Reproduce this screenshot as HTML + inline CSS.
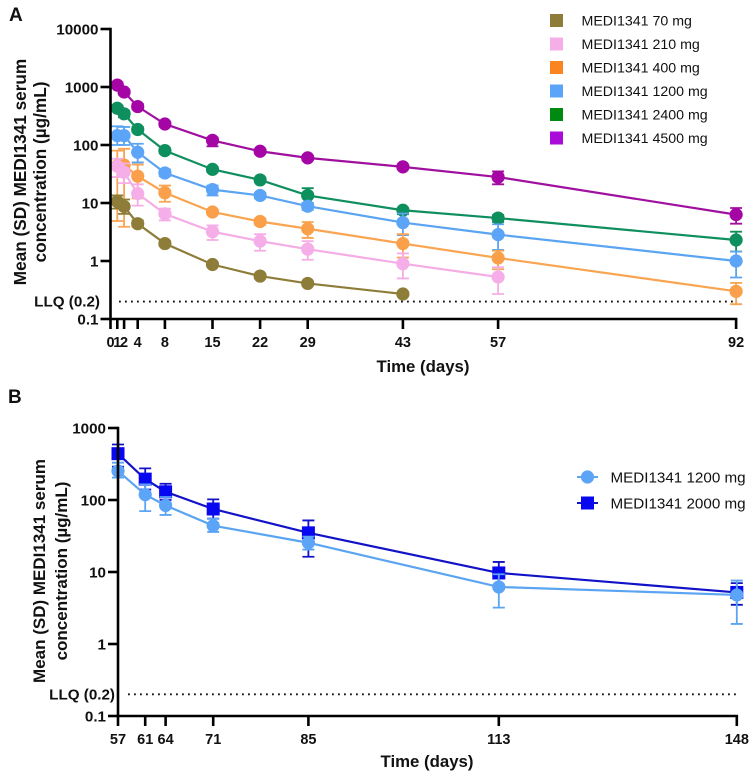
<!DOCTYPE html>
<html lang="en">
<head>
<meta charset="utf-8">
<title>MEDI1341 serum concentration</title>
<style>
html,body{margin:0;padding:0;background:#fff;width:750px;height:772px;overflow:hidden}
svg{display:block}
text{font-family:"Liberation Sans",sans-serif;fill:#111}
.b{font-weight:bold}
</style>
</head>
<body>
<svg id="chart" xmlns="http://www.w3.org/2000/svg" width="750" height="772" viewBox="0 0 750 772"></svg>
<script>
// Panel A data
const daysA = [1, 2, 4, 8, 15, 22, 29, 43, 57, 92];
const xTicksA = [0, 1, 2, 4, 8, 15, 22, 29, 43, 57, 92];
const yTicksA = [0.1, 1, 10, 100, 1000, 10000];
const llq = 0.2;

const name70 = 'MEDI1341 70 mg';
const mean70 = [10.6, 8.7, 4.4, 2.0, 0.87, 0.55, 0.41, 0.27, null, null];
const up70 = [13.5, 11.5, 5.0, 2.2, 0.95, 0.6, 0.44, 0.28, null, null];
const low70 = [8, 6.5, 3.9, 1.8, 0.8, 0.5, 0.38, 0.26, null, null];

const name210 = 'MEDI1341 210 mg';
const mean210 = [43, 34, 14.5, 6.5, 3.2, 2.2, 1.6, 0.9, 0.53, null];
const up210 = [58, 48, 21, 8, 4.1, 2.9, 2.2, 1.35, 0.78, null];
const low210 = [28, 22, 9, 5, 2.3, 1.5, 1.05, 0.5, 0.27, null];

const name400 = 'MEDI1341 400 mg';
const mean400 = [44, 45, 29, 15, 7, 4.8, 3.6, 2.0, 1.13, 0.3];
const up400 = [80, 86, 46, 20, 7.8, 5.4, 4.7, 2.9, 1.5, 0.42];
const low400 = [4.9, 3.9, 12, 10.5, 6.3, 4.2, 2.5, 1.15, 0.72, 0.18];

const name1200 = 'MEDI1341 1200 mg';
const mean1200 = [145, 145, 75, 33, 17, 13.5, 8.8, 4.6, 2.85, 1.0];
const up1200 = [210, 205, 105, 38, 20, 15, 10, 6.6, 4.3, 1.45];
const low1200 = [100, 100, 50, 29, 13.5, 12, 7.6, 2.8, 1.55, 0.52];

const name2400 = 'MEDI1341 2400 mg';
const mean2400 = [430, 345, 185, 80, 38, 25, 13.5, 7.5, 5.5, 2.3];
const up2400 = [480, 390, 205, 88, 42, 27, 18, 8.2, 6.2, 3.2];
const low2400 = [380, 300, 165, 72, 34, 23, 10, 6.4, 4.7, 1.45];

const name4500 = 'MEDI1341 4500 mg';
const mean4500 = [1080, 820, 460, 230, 120, 78, 60, 42, 28, 6.3];
const up4500 = [1200, 900, 510, 250, 135, 85, 65, 45, 35, 8.2];
const low4500 = [960, 740, 410, 210, 95, 71, 55, 39, 21, 4.4];

// Panel B data
const daysB = [57, 61, 64, 71, 85, 113, 148];
const xTicksB = [57, 61, 64, 71, 85, 113, 148];
const yTicksB = [0.1, 1, 10, 100, 1000];

const nameB1200 = 'MEDI1341 1200 mg';
const meanB1200 = [253, 119, 84, 44, 25.5, 6.2, 4.8];
const upB1200 = [330, 165, 110, 55, 31, 9.3, 7.6];
const lowB1200 = [205, 70, 62, 36, 20.5, 3.2, 1.9];

const nameB2000 = 'MEDI1341 2000 mg';
const meanB2000 = [440, 195, 130, 75, 35, 9.7, 5.2];
const upB2000 = [590, 275, 168, 102, 52, 13.8, 7];
const lowB2000 = [290, 140, 100, 55, 16.3, 6, 3.5];

const NS = 'http://www.w3.org/2000/svg';
const svg = document.getElementById('chart');

function mk(tag, attrs, parent, txt) {
  const e = document.createElementNS(NS, tag);
  for (const k in attrs) e.setAttribute(k, attrs[k]);
  if (txt !== undefined) e.textContent = txt;
  (parent || svg).appendChild(e);
  return e;
}
function slug(s) { return s.toLowerCase().replace(/[^a-z0-9]+/g, '-'); }

function drawPanel(cfg) {
  const sx = d => cfg.x0 + (d - cfg.d0) * cfg.pxPerDay;
  const sy = v => cfg.y1 - cfg.decade * Math.log10(v);
  const panel = mk('g', {});
  
  

  const letter = mk('text', {x: cfg.letterX, y: cfg.letterY, 'font-size': 19, 'font-weight': 'bold'}, panel, cfg.id.toUpperCase());
  
  

  const lineY = sy(llq);
  const ll = mk('line', {x1: cfg.llqX, x2: sx(cfg.xTicks[cfg.xTicks.length - 1]) + 1, y1: lineY, y2: lineY, stroke: '#111', 'stroke-width': 1.9, 'stroke-dasharray': '1.8 4.2'}, panel);
  
  
  const lt = mk('text', {x: cfg.llqLabelX, y: lineY + 5, 'text-anchor': 'end', 'font-size': 15.2, 'font-weight': 'bold'}, panel, 'LLQ (0.2)');
  
  

  cfg.series.forEach(s => {
    const g = mk('g', {}, panel);
    
    
    const pts = [];
    s.mean.forEach((m, i) => { if (m !== null) pts.push(sx(cfg.days[i]).toFixed(2) + ',' + sy(m).toFixed(2)); });
    s.mean.forEach((m, i) => {
      if (m === null) return;
      const cx = sx(cfg.days[i]);
      const yu = sy(s.up[i]), yl = sy(s.low[i]);
      const eb = mk('path', {d: `M${cx} ${yu}V${yl}M${cx - 6} ${yu}H${cx + 6}M${cx - 6} ${yl}H${cx + 6}`, fill: 'none', stroke: s.line, 'stroke-width': 1.8}, g);
      
      
    });
    const pl = mk('polyline', {points: pts.join(' '), fill: 'none', stroke: s.line, 'stroke-width': 2.2}, g);
    
    
    s.mean.forEach((m, i) => {
      if (m === null) return;
      const cx = sx(cfg.days[i]), cy = sy(m);
      let p;
      if (s.square) p = mk('rect', {x: cx - 6.5, y: cy - 6.5, width: 13, height: 13, fill: s.fill}, g);
      else p = mk('circle', {cx: cx, cy: cy, r: 6.6, fill: s.fill}, g);
      
      
    });
  });

  const axes = mk('g', {stroke: '#000', 'stroke-width': 2.6, fill: 'none'}, panel);
  
  
  const yTop = sy(cfg.yTicks[cfg.yTicks.length - 1]);
  const yBot = sy(cfg.yTicks[0]);
  const xEnd = sx(cfg.xTicks[cfg.xTicks.length - 1]);
  const ya = mk('line', {x1: cfg.x0, x2: cfg.x0, y1: yTop - 1.3, y2: yBot + 1.3}, axes);
  
  
  const xa = mk('line', {x1: cfg.x0 - 1.3, x2: xEnd + 1.3, y1: yBot, y2: yBot}, axes);
  
  

  cfg.yTicks.forEach(v => {
    const t = mk('line', {x1: cfg.x0 - 10, x2: cfg.x0, y1: sy(v), y2: sy(v)}, axes);
    
    
    const l = mk('text', {x: cfg.x0 - 12, y: sy(v) + 5.4, 'text-anchor': 'end', 'font-size': 15.2, 'font-weight': 'bold'}, panel, String(v));
    
    
  });
  cfg.xTicks.forEach(d => {
    const t = mk('line', {x1: sx(d), x2: sx(d), y1: yBot, y2: yBot + 10}, axes);
    
    
    const l = mk('text', {x: sx(d), y: yBot + cfg.xLabelDy, 'text-anchor': 'middle', 'font-size': 14.5, 'font-weight': 'bold'}, panel, String(d));
    
    
  });

  const xt = mk('text', {x: cfg.xTitleX, y: cfg.xTitleY, 'text-anchor': 'middle', 'font-size': 16.8, 'font-weight': 'bold'}, panel, 'Time (days)');
  
  
  const yt1 = mk('text', {transform: `translate(${cfg.yTitleX1},${cfg.yTitleC}) rotate(-90)`, 'text-anchor': 'middle', 'font-size': cfg.yTitleSize, 'font-weight': 'bold'}, panel, 'Mean (SD) MEDI1341 serum');
  
  
  const yt2 = mk('text', {transform: `translate(${cfg.yTitleX2},${cfg.yTitleC}) rotate(-90)`, 'text-anchor': 'middle', 'font-size': cfg.yTitleSize, 'font-weight': 'bold'}, panel, 'concentration (µg/mL)');
  
  
  return panel;
}

const seriesA = [
  {name: name4500, mean: mean4500, up: up4500, low: low4500, line: '#A0109F', fill: '#A505A5', key: '#A90BD8'},
  {name: name2400, mean: mean2400, up: up2400, low: low2400, line: '#0F8F5F', fill: '#0D8F5E', key: '#008A10'},
  {name: name1200, mean: mean1200, up: up1200, low: low1200, line: '#5BA4F2', fill: '#5BA4F8', key: '#5BA4F8'},
  {name: name400, mean: mean400, up: up400, low: low400, line: '#F9A450', fill: '#FAA04A', key: '#FA8420'},
  {name: name210, mean: mean210, up: up210, low: low210, line: '#F5ADE6', fill: '#F6AEE8', key: '#F6AEE8'},
  {name: name70, mean: mean70, up: up70, low: low70, line: '#8E7D38', fill: '#8E7D38', key: '#8E7D38'}
];
const seriesB = [
  {name: nameB2000, mean: meanB2000, up: upB2000, low: lowB2000, line: '#1212C8', fill: '#0808F0', square: true},
  {name: nameB1200, mean: meanB1200, up: upB1200, low: lowB1200, line: '#5BA4F2', fill: '#5BA4F8'}
];

drawPanel({id: 'a', x0: 110.5, d0: 0, pxPerDay: 6.8, y1: 261, decade: 58, days: daysA, xTicks: xTicksA, yTicks: yTicksA, series: seriesA,
  letterX: 9, letterY: 21, llqX: 119, llqLabelX: 100, xLabelDy: 28, xTitleX: 423, xTitleY: 372, yTitleX1: 26, yTitleX2: 46, yTitleC: 172, yTitleSize: 17.2});
drawPanel({id: 'b', x0: 118, d0: 57, pxPerDay: 6.8, y1: 644, decade: 72, days: daysB, xTicks: xTicksB, yTicks: yTicksB, series: seriesB,
  letterX: 8, letterY: 403, llqX: 128, llqLabelX: 115, xLabelDy: 28, xTitleX: 427, xTitleY: 767, yTitleX1: 45, yTitleX2: 67, yTitleC: 571, yTitleSize: 17});

// Legend A (listed low dose to high dose)
const legendA = mk('g', {});


seriesA.slice().reverse().forEach((s, i) => {
  const y = 20.5 + i * 23.5;
  const r = mk('rect', {x: 550, y: y - 6.5, width: 13, height: 13, fill: s.key}, legendA);
  
  
  const t = mk('text', {x: 581.5, y: y + 5, 'font-size': 14.2, fill: '#222'}, legendA, s.name);
  
  
});

// Legend B
const legendB = mk('g', {});


seriesB.slice().reverse().forEach((s, i) => {
  const y = 477 + i * 26;
  const l = mk('line', {x1: 577, x2: 598, y1: y, y2: y, stroke: s.line, 'stroke-width': 2}, legendB);
  
  
  let m;
  if (s.square) m = mk('rect', {x: 581, y: y - 6.5, width: 13, height: 13, fill: s.fill}, legendB);
  else m = mk('circle', {cx: 587.5, cy: y, r: 6.6, fill: s.fill}, legendB);
  
  
  const t = mk('text', {x: 610.5, y: y + 5.5, 'font-size': 15.2}, legendB, s.name);
  
  
});
</script>
</body>
</html>
